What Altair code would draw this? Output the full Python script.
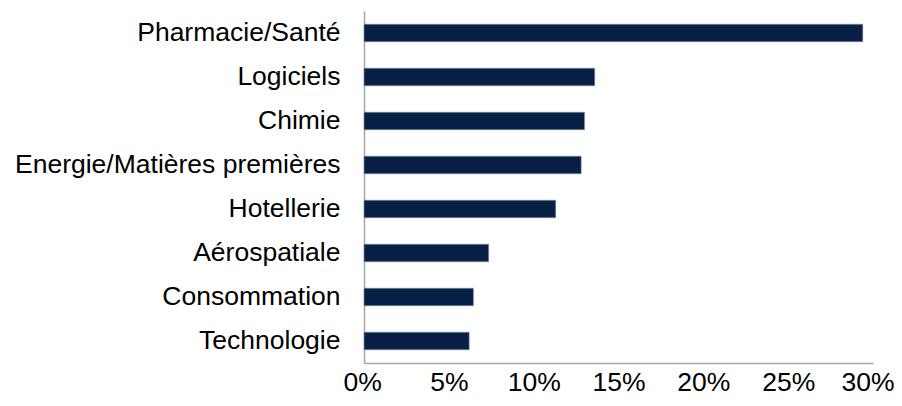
import altair as alt
import pandas as pd

categories = ["Pharmacie/Santé", "Logiciels", "Chimie", "Energie/Matières premières",
              "Hotellerie", "Aérospatiale", "Consommation", "Technologie"]
values = [29.4, 13.6, 13.0, 12.8, 11.3, 7.35, 6.45, 6.2]

df = pd.DataFrame({"cat": categories, "val": [v / 100 for v in values]})

chart = alt.Chart(df).mark_bar(color="#082045", stroke="#8c96a8", strokeWidth=0.6).encode(
    y=alt.Y("cat:N", sort=categories, title=None,
            scale=alt.Scale(paddingInner=0.6, paddingOuter=0.3),
            axis=alt.Axis(ticks=False, labelPadding=24, labelFontSize=26.5,
                          labelFont="Liberation Sans", labelColor="#000000",
                          labelLimit=500, domainColor="#a6a6a6", domainWidth=1.5)),
    x=alt.X("val:Q", title=None,
            scale=alt.Scale(domain=[0, 0.3], nice=False),
            axis=alt.Axis(format=".0%", values=[0, 0.05, 0.1, 0.15, 0.2, 0.25, 0.3],
                          ticks=False, grid=False, labelPadding=27,
                          labelBaseline="alphabetic", labelFontSize=26.5,
                          labelFont="Liberation Sans", labelColor="#000000",
                          domainColor="#a6a6a6", domainWidth=1.5,
                          labelFlush=True, labelFlushOffset=21)),
).properties(
    width=509, height=352,
    autosize=alt.AutoSizeParams(type="none"),
    padding={"left": 356, "top": 3, "right": 21, "bottom": 35},
).configure_view(stroke=None)

chart.save("out.html", embed_options={"renderer": "svg", "actions": False})
